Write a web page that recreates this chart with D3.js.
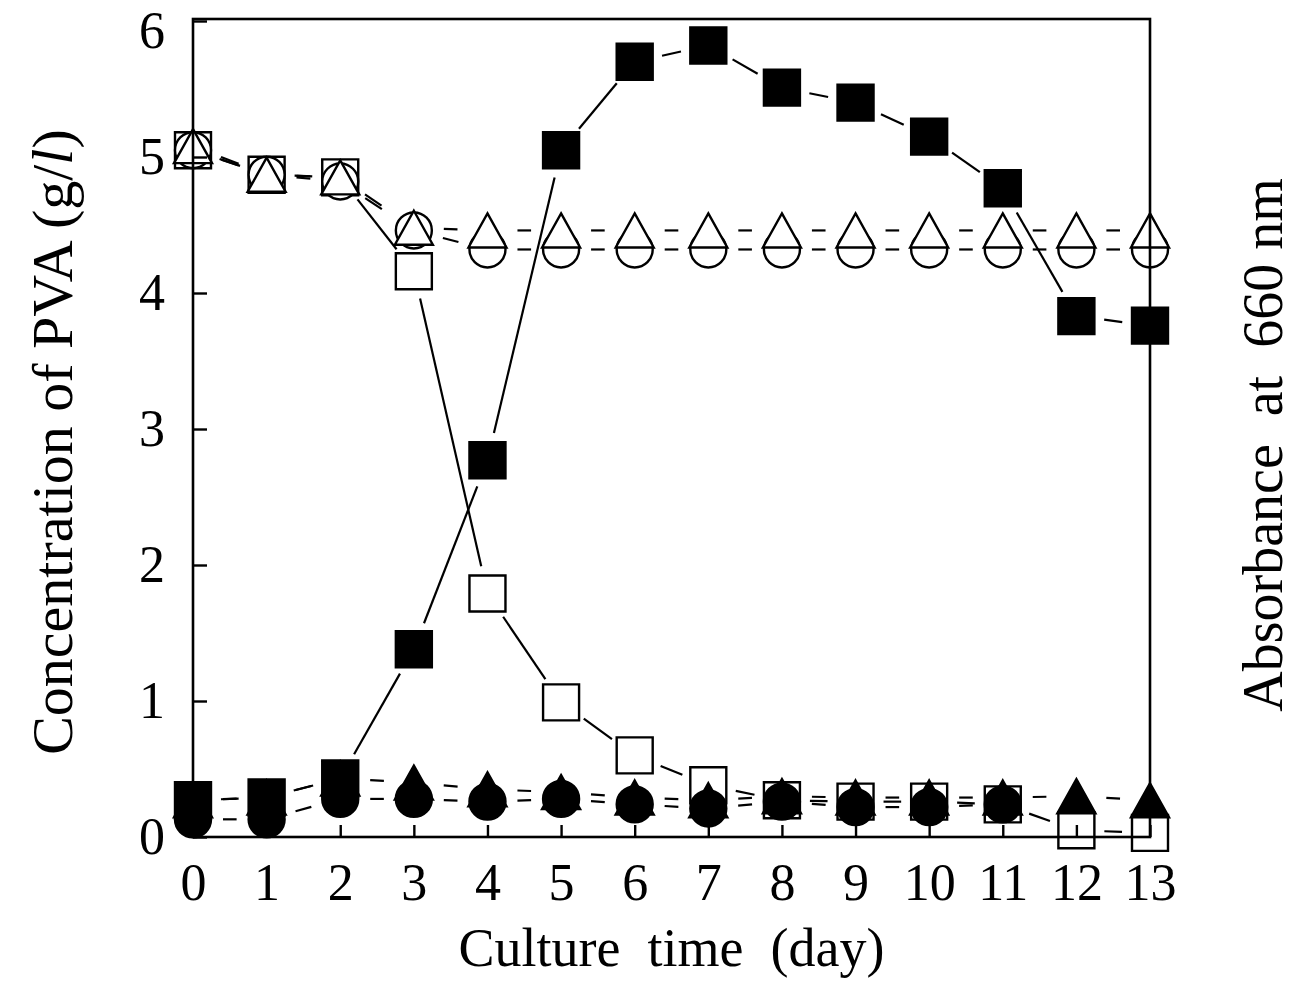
<!DOCTYPE html>
<html><head><meta charset="utf-8">
<script src="https://cdn.jsdelivr.net/npm/d3@7"></script>
<style>
body{margin:0;background:#fff}
svg{display:block}
text{font-family:"Liberation Serif","Times New Roman",serif;fill:#000}
</style>
</head><body>
<svg id="chart" width="1304" height="981"></svg>
<script>
// ---- data ----
const days = [0,1,2,3,4,5,6,7,8,9,10,11,12,13];
const filledSquares   = [0.27,0.29,0.43,1.38,2.77,5.05,5.70,5.82,5.51,5.40,5.15,4.77,3.83,3.76];
const openSquares     = [5.05,4.87,4.85,4.16,1.79,0.99,0.60,0.38,0.27,0.26,0.26,0.24,0.05,0.03];
const openCircles     = [5.05,4.87,4.82,4.46,4.32,4.32,4.32,4.32,4.32,4.32,4.32,4.32,4.32,4.32];
const openTriangles   = [5.08,4.87,4.85,4.48,4.46,4.46,4.46,4.46,4.46,4.46,4.46,4.46,4.46,4.46];
const filledCircles   = [0.13,0.13,0.28,0.28,0.26,0.28,0.24,0.21,0.26,0.22,0.22,0.24,null,null];
const filledTriangles = [0.27,0.29,0.43,0.40,0.35,0.33,0.29,0.27,0.30,0.29,0.29,0.29,0.30,0.27];
const xTickValues = [0,1,2,3,4,5,6,7,8,9,10,11,12,13];
const yTickValues = [0,1,2,3,4,5,6];
const xTitle = "Culture\u2002time\u2002(day)";
const yTitleMain = "Concentration of PVA (g/";
const yTitleItalic = "l";
const yTitleEnd = ")";
const rightTitle = "Absorbance\u2002at\u2002660 nm";

// ---- layout ----
const svg = d3.select("#chart");
const x = d3.scaleLinear().domain([0,13]).range([193,1150]);
const y = d3.scaleLinear().domain([0,6]).range([837,21]);

function segs(vals, gap){
  const out=[];
  for(let i=0;i<vals.length-1;i++){
    if(vals[i]==null||vals[i+1]==null) continue;
    const x1=x(days[i]), y1=y(vals[i]), x2=x(days[i+1]), y2=y(vals[i+1]);
    const dx=x2-x1, dy=y2-y1, L=Math.hypot(dx,dy);
    if(L<=2*gap+2) continue;
    const ux=dx/L, uy=dy/L;
    out.push([x1+ux*gap, y1+uy*gap, x2-ux*gap, y2-uy*gap]);
  }
  return out;
}
function drawLines(vals, gap, dash){
  svg.append("g").selectAll("line").data(segs(vals,gap)).join("line")
    .attr("x1",d=>d[0]).attr("y1",d=>d[1]).attr("x2",d=>d[2]).attr("y2",d=>d[3])
    .attr("stroke","#000").attr("stroke-width",2.2)
    .attr("stroke-dasharray",dash||null);
}
drawLines(filledSquares,28);
drawLines(openSquares,28);
drawLines(openCircles,30,"20,10");
drawLines(openTriangles,30,"20,10");
drawLines(filledCircles,30,"20,10");
drawLines(filledTriangles,30,"20,10");

const S=36, R=18, TH=34, TW=38;
const sqPath = `M${-S/2},${-S/2}h${S}v${S}h${-S}Z`;
const triPath = `M0,${-TH/2}L${TW/2},${TH/2}L${-TW/2},${TH/2}Z`;
const circPath = d3.symbol(d3.symbolCircle, Math.PI*R*R)();

function drawMarkers(vals, path, filled){
  const pts = vals.map((v,i)=>({d:days[i],v})).filter(p=>p.v!=null);
  svg.append("g").selectAll("path").data(pts).join("path")
    .attr("d",path)
    .attr("transform",p=>`translate(${x(p.d)},${y(p.v)})`)
    .attr("fill",filled?"#000":"#fff")
    .attr("stroke","#000").attr("stroke-width",2.4);
}
drawMarkers(openSquares,sqPath,false);
drawMarkers(openCircles,circPath,false);
drawMarkers(openTriangles,triPath,false);
drawMarkers(filledCircles,circPath,true);
drawMarkers(filledTriangles,triPath,true);
drawMarkers(filledSquares,sqPath,true);

// ---- axes ----
const xAxis = d3.axisBottom(x).tickValues(xTickValues).tickFormat(d3.format("d"))
  .tickSizeInner(-12).tickSizeOuter(0).tickPadding(26);
const gx = svg.append("g").attr("transform",`translate(0,${y(0)})`).call(xAxis);
const yAxis = d3.axisLeft(y).tickValues(yTickValues).tickFormat(d3.format("d"))
  .tickSizeInner(-14).tickSizeOuter(0).tickPadding(28);
const gy = svg.append("g").attr("transform",`translate(${x(0)},0)`).call(yAxis);
[gx,gy].forEach(g=>{
  g.select(".domain").remove();
  g.selectAll(".tick line").attr("stroke","#000").attr("stroke-width",2.4);
  g.selectAll(".tick text").style("font-size","52px").attr("fill","#000");
});
gy.selectAll(".tick text").filter(d=>d===6).attr("y",10);

svg.append("rect")
  .attr("x",x(0)).attr("y",y(6)-2).attr("width",x(13)-x(0)).attr("height",y(0)-y(6)+2)
  .attr("fill","none").attr("stroke","#000").attr("stroke-width",2.6);

// ---- titles ----
svg.append("text").attr("x",(x(0)+x(13))/2).attr("y",966)
  .attr("text-anchor","middle").style("font-size","54px").text(xTitle);

const yt = svg.append("text").attr("transform","translate(72,442) rotate(-90)")
  .attr("text-anchor","middle").style("font-size","58px");
yt.append("tspan").text(yTitleMain);
yt.append("tspan").style("font-style","italic").text(yTitleItalic);
yt.append("tspan").text(yTitleEnd);

svg.append("text").attr("transform","translate(1282,445) rotate(-90)")
  .attr("text-anchor","middle").style("font-size","56px").text(rightTitle);
</script>
</body></html>
